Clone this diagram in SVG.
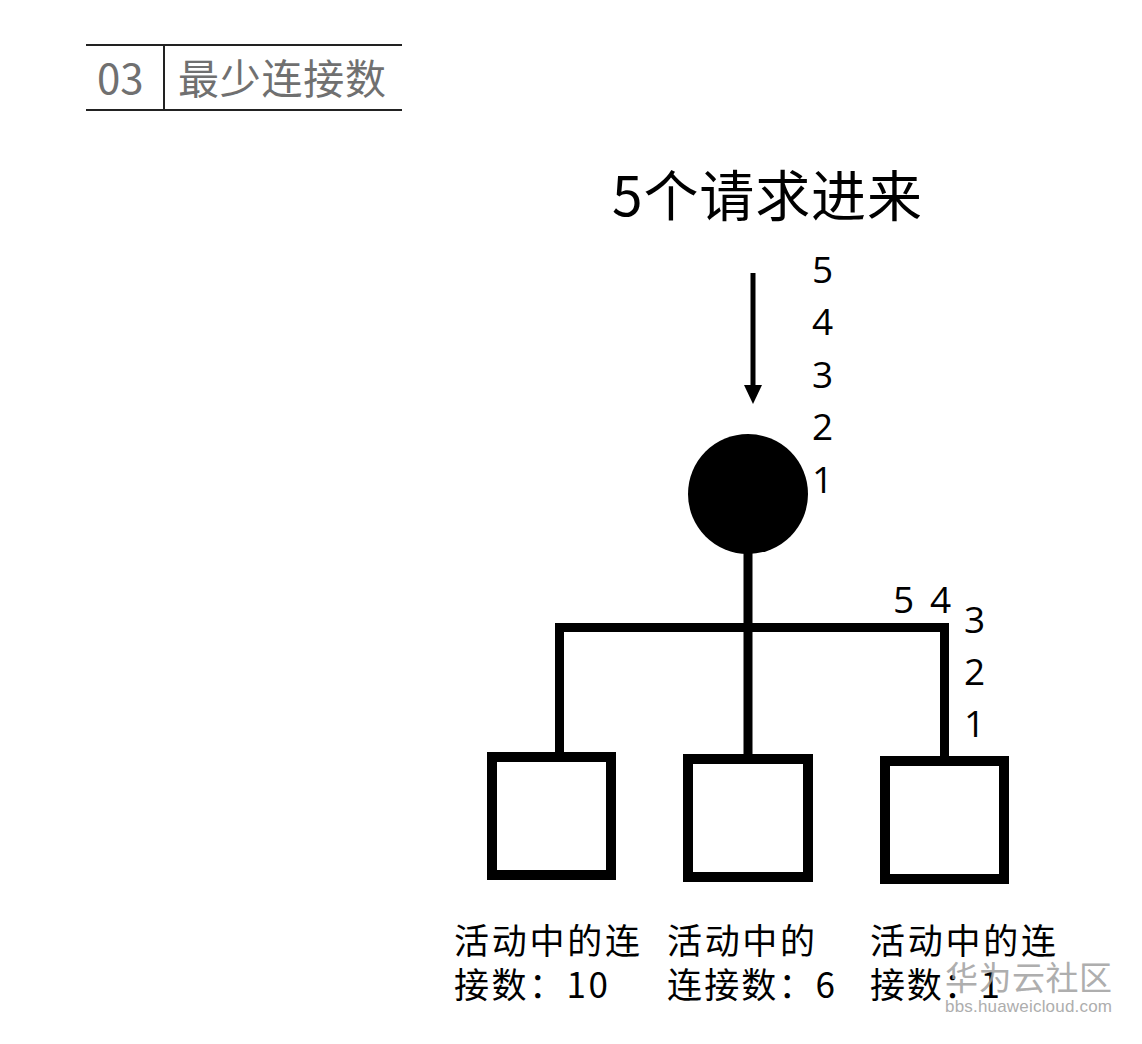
<svg xmlns="http://www.w3.org/2000/svg" width="1142" height="1044" viewBox="0 0 1142 1044">
<style>
.hdr{fill:#707070;font-family:"Noto Sans CJK SC","Noto Sans",sans-serif;}
.t{fill:#000;font-family:"Noto Sans CJK SC","Noto Sans",sans-serif;}
.num{fill:#000;font-family:"Open Sans","Noto Sans",sans-serif;font-size:37px;}
.lbl{fill:#000;font-family:"Noto Sans CJK SC",sans-serif;font-size:35px;}
.box{fill:#fff;stroke:#000;stroke-width:10;}
.wire{stroke:#000;stroke-width:9;fill:none;stroke-linecap:butt;}
.wm{fill:#a0a0a0;font-family:"Noto Sans CJK SC","Liberation Sans",sans-serif;}
</style>
<rect width="1142" height="1044" fill="#fff"/>
<g id="header">
<line x1="86" y1="45" x2="402" y2="45" stroke="#222" stroke-width="2"/>
<line x1="86" y1="110" x2="402" y2="110" stroke="#222" stroke-width="2"/>
<line x1="164" y1="45" x2="164" y2="110" stroke="#222" stroke-width="2"/>
<text class="hdr" x="97" y="94" font-size="42">03</text>
<text class="hdr" x="178" y="94" font-size="41" textLength="208">最少连接数</text>
</g>
<g id="title">
<text class="t" x="612" y="216" font-size="55" textLength="310">5个请求进来</text>
</g>
<g id="queue-top">
<text class="num" x="812" y="283">5</text>
<text class="num" x="812" y="335">4</text>
<text class="num" x="812" y="388">3</text>
<text class="num" x="812" y="440">2</text>
<text class="num" x="812" y="493">1</text>
</g>
<g id="balancer">
<circle cx="748" cy="494" r="60" fill="#000"/>
</g>
<g id="connectors">
<line x1="753" y1="273" x2="753" y2="388" stroke="#000" stroke-width="5"/>
<polygon points="744,385 762,385 753,404" fill="#000"/>
<line class="wire" x1="748" y1="550" x2="748" y2="756"/>
<line class="wire" x1="555" y1="627.5" x2="949" y2="627.5"/>
<line class="wire" x1="559.5" y1="623" x2="559.5" y2="754"/>
<line class="wire" x1="944.5" y1="623" x2="944.5" y2="758"/>
</g>
<g id="queue-right">
<text class="num" x="893" y="613">5</text>
<text class="num" x="930" y="613">4</text>
<text class="num" x="964" y="633">3</text>
<text class="num" x="964" y="685">2</text>
<text class="num" x="964" y="737">1</text>
</g>
<g id="server1">
<rect class="box" x="492" y="757" width="119" height="118"/>
<text class="lbl" x="454" y="954" textLength="186">活动中的连</text>
<text class="lbl" x="454" y="998" textLength="154">接数：10</text>
</g>
<g id="server2">
<rect class="box" x="688" y="759" width="120" height="118"/>
<text class="lbl" x="667" y="954" textLength="148">活动中的</text>
<text class="lbl" x="667" y="998" textLength="168">连接数：6</text>
</g>
<g id="server3">
<rect class="box" x="885" y="761" width="119" height="118"/>
<text class="lbl" x="870" y="954" textLength="186">活动中的连</text>
<text class="lbl" x="870" y="998" textLength="130">接数：1</text>
</g>
<g id="watermark" opacity="0.85">
<text class="wm" x="945" y="990" font-size="33" textLength="167">华为云社区</text>
<text class="wm" x="945" y="1012" font-size="17" textLength="167" style="font-family:'Liberation Sans',sans-serif">bbs.huaweicloud.com</text>
</g>
</svg>
